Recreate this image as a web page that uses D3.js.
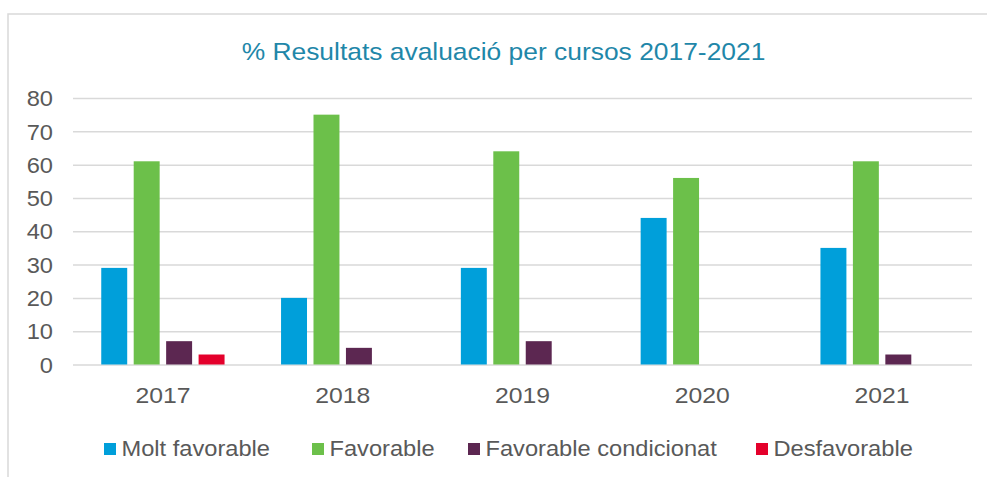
<!DOCTYPE html>
<html>
<head>
<meta charset="utf-8">
<script src="https://cdn.jsdelivr.net/npm/d3@7"></script>
<style>
  html, body { margin: 0; padding: 0; background: #fff; }
  svg { display: block; font-family: Arial, "Liberation Sans", sans-serif; }
</style>
</head>
<body>
<svg id="chart" width="987" height="477"></svg>
<script>
const title = "% Resultats avaluació per cursos 2017-2021";
const categories = ["2017", "2018", "2019", "2020", "2021"];
const seriesNames = ["Molt favorable", "Favorable", "Favorable condicionat", "Desfavorable"];
const moltFavorable = [29, 20, 29, 44, 35];
const favorable = [61, 75, 64, 56, 61];
const favorableCondicionat = [7, 5, 7, 0, 3];
const desfavorable = [3, 0, 0, 0, 0];
const yTicks = [0, 10, 20, 30, 40, 50, 60, 70, 80];
const colors = ["#009FDA", "#6CC04A", "#5C2751", "#E4002B"];

const seriesValues = [moltFavorable, favorable, favorableCondicionat, desfavorable];
const data = categories.map((c, i) => ({
  cat: c,
  vals: seriesNames.map((s, j) => ({ key: s, value: seriesValues[j][i], color: colors[j] }))
}));

const SX = 1.1; // horizontal text stretch
const svg = d3.select("#chart");

// outer frame
svg.append("rect").attr("x", 8).attr("y", 14).attr("width", 1000).attr("height", 500)
  .attr("fill", "none").attr("stroke", "#d9d9d9").attr("stroke-width", 1.5);

const plot = { left: 73, right: 972, top: 98, bottom: 364.5 };

const x0 = d3.scaleBand().domain(categories).range([plot.left, plot.right]).paddingInner(0).paddingOuter(0);
const groupW = 123.3;
const x1 = d3.scaleBand().domain(seriesNames).range([0, groupW]).paddingInner(0.2).paddingOuter(0);
const y = d3.scaleLinear().domain([0, 80]).range([plot.bottom, plot.top]);

// gridlines
const grid = svg.append("g").attr("transform", `translate(${plot.left},0)`)
  .call(d3.axisLeft(y).tickValues(yTicks).tickSize(-(plot.right - plot.left)).tickFormat(""));
grid.select(".domain").remove();
grid.selectAll("line").attr("stroke", "#d9d9d9").attr("stroke-width", 1.5);

// y labels
const yAxis = svg.append("g").attr("transform", `translate(53,0)`)
  .call(d3.axisLeft(y).tickValues(yTicks).tickSize(0).tickPadding(0));
yAxis.select(".domain").remove();
yAxis.selectAll("text")
  .attr("x", 0).attr("dy", "0.36em")
  .attr("transform", function() { return d3.select(this.parentNode).attr("transform") ? `scale(${SX},1)` : null; })
  .attr("fill", "#595959").attr("font-size", "21.5px")
  .attr("font-family", "Arial, 'Liberation Sans', sans-serif")
  .attr("text-anchor", "end");

// bars
const groups = svg.append("g").selectAll("g").data(data).join("g")
  .attr("transform", d => `translate(${x0(d.cat) + (x0.bandwidth() - groupW) / 2},0)`);
groups.selectAll("rect").data(d => d.vals.filter(v => v.value > 0)).join("rect")
  .attr("x", v => x1(v.key))
  .attr("width", x1.bandwidth())
  .attr("y", v => y(v.value))
  .attr("height", v => y(0) - y(v.value))
  .attr("fill", v => v.color);

// x labels
const xAxis = svg.append("g").attr("transform", `translate(0,${plot.bottom})`)
  .call(d3.axisBottom(x0).tickSize(0).tickPadding(0));
xAxis.select(".domain").remove();
xAxis.selectAll("text")
  .attr("y", 38.5).attr("dy", 0)
  .attr("transform", `scale(${SX},1)`)
  .attr("x", 0)
  .attr("fill", "#595959").attr("font-size", "22.5px")
  .attr("font-family", "Arial, 'Liberation Sans', sans-serif");

// title
svg.append("g").attr("transform", "translate(503.5,60)")
  .append("text").attr("transform", `scale(${SX},1)`)
  .attr("text-anchor", "middle").attr("fill", "#1F87A9").attr("font-size", "24px")
  .text(title);

// legend
const legendX = [104, 312, 468, 756];
const legend = svg.append("g").selectAll("g").data(seriesNames).join("g")
  .attr("transform", (d, i) => `translate(${legendX[i]},443)`);
legend.append("rect").attr("width", 12).attr("height", 12).attr("fill", (d, i) => colors[i]);
legend.append("g").attr("transform", "translate(17.5,13)")
  .append("text").attr("transform", `scale(${SX},1)`)
  .attr("fill", "#595959").attr("font-size", "21.5px")
  .text(d => d);
</script>
</body>
</html>
